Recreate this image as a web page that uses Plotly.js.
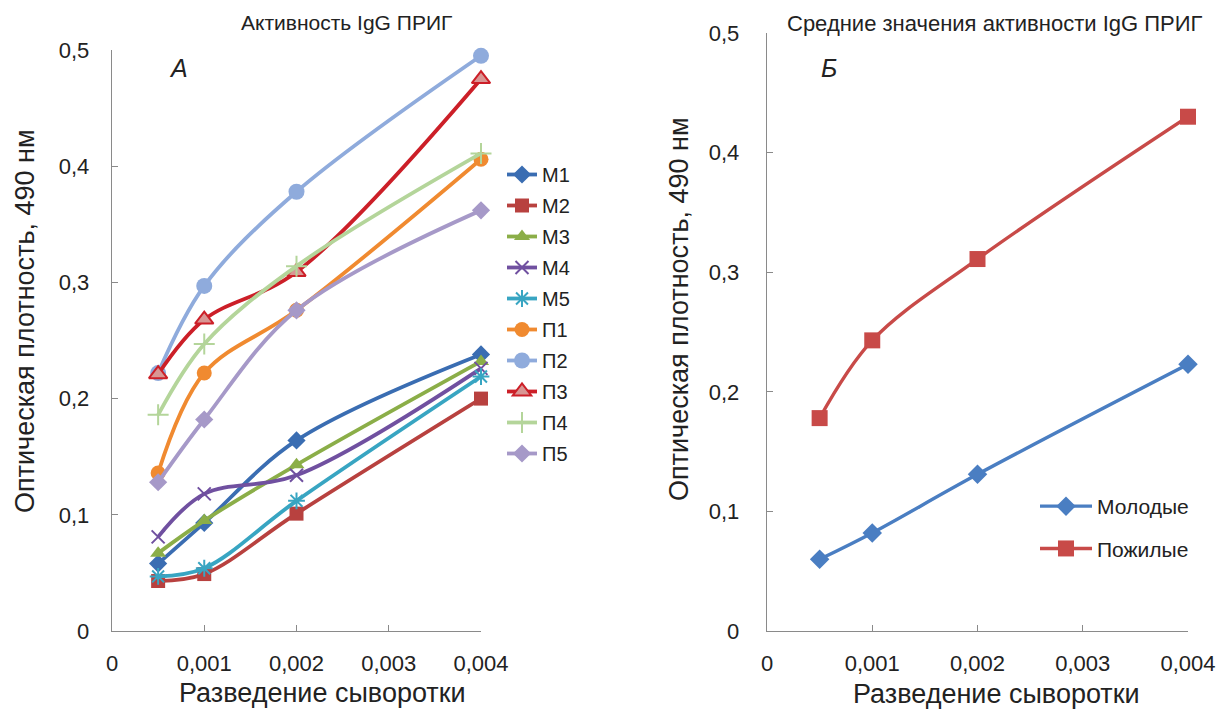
<!DOCTYPE html>
<html>
<head>
<meta charset="utf-8">
<script src="https://cdn.plot.ly/plotly-3.0.1.min.js"></script>
<style>html,body{margin:0;padding:0;background:#fff}#chart{width:1222px;height:709px}</style>
</head>
<body>
<div id="chart"></div>
<script>
// ---- data ----
const dilution = [0.0005, 0.001, 0.002, 0.004];
const seriesNames = ["М1", "М2", "М3", "М4", "М5", "П1", "П2", "П3", "П4", "П5"];
const M1 = [0.058, 0.093, 0.164, 0.238];
const M2 = [0.043, 0.049, 0.101, 0.200];
const M3 = [0.067, 0.095, 0.143, 0.232];
const M4 = [0.081, 0.118, 0.134, 0.226];
const M5 = [0.047, 0.054, 0.112, 0.219];
const P1 = [0.136, 0.222, 0.276, 0.406];
const P2 = [0.222, 0.297, 0.378, 0.495];
const P3 = [0.221, 0.268, 0.309, 0.475];
const P4 = [0.186, 0.247, 0.314, 0.411];
const P5 = [0.128, 0.182, 0.276, 0.362];
const groupNames = ["Молодые", "Пожилые"];
const young = [0.060, 0.082, 0.131, 0.223];
const elderly = [0.178, 0.243, 0.311, 0.430];
const xTicks = [0, 0.001, 0.002, 0.003, 0.004];
const xTickText = ["0", "0,001", "0,002", "0,003", "0,004"];
const yTicks = [0, 0.1, 0.2, 0.3, 0.4, 0.5];
const yTickText = ["0", "0,1", "0,2", "0,3", "0,4", "0,5"];

const W = 1222, H = 709;
const px = v => v / W, py = v => 1 - v / H;
const FONT = "Liberation Sans, Arial, sans-serif";

const styles = [
  {c: "#3a6db2", sym: "diamond", size: 14},
  {c: "#b8413f", sym: "square", size: 14},
  {c: "#8bae48", sym: "triangle-up", size: 14},
  {c: "#7050a0", sym: "x-thin", size: 13, lw: 2},
  {c: "#38a5c2", sym: "asterisk", size: 14, lw: 2},
  {c: "#f08a30", sym: "circle", size: 15},
  {c: "#8fabdc", sym: "circle", size: 16},
  {c: "#cc1f28", sym: "triangle-up", size: 16, fill: "#d99694", lw: 2},
  {c: "#b4d59a", sym: "cross-thin", size: 15, lw: 2},
  {c: "#a699c8", sym: "diamond", size: 14}
];
const leftData = [M1, M2, M3, M4, M5, P1, P2, P3, P4, P5];

const traces = leftData.map((ys, i) => {
  const s = styles[i];
  const marker = {symbol: s.sym, size: s.size, color: s.fill || s.c};
  if (s.lw) marker.line = {color: s.c, width: s.lw};
  return {
    x: dilution, y: ys, name: seriesNames[i], type: "scatter", mode: "lines+markers",
    line: {color: s.c, width: 3.8, shape: "spline", smoothing: 1},
    marker: marker, xaxis: "x", yaxis: "y", cliponaxis: false,
    legend: "legend", legendgroup: "g" + i
  };
});
traces.push({
  x: dilution, y: young, name: groupNames[0], type: "scatter", mode: "lines+markers",
  line: {color: "#4a7ec2", width: 3.4, shape: "spline", smoothing: 1},
  marker: {symbol: "diamond", size: 15, color: "#4a7ec2"},
  xaxis: "x2", yaxis: "y2", cliponaxis: false, legend: "legend2", legendgroup: "young"
});
traces.push({
  x: dilution, y: elderly, name: groupNames[1], type: "scatter", mode: "lines+markers",
  line: {color: "#c84a48", width: 3.4, shape: "spline", smoothing: 1},
  marker: {symbol: "square", size: 16, color: "#c84a48"},
  xaxis: "x2", yaxis: "y2", cliponaxis: false, legend: "legend2", legendgroup: "old"
});

const axCommon = {
  showline: true, linecolor: "#8a8a8a", linewidth: 1.3, showgrid: false, zeroline: false,
  ticks: "inside", ticklen: 6, tickcolor: "#8a8a8a", tickwidth: 1.3,
  tickfont: {family: FONT, size: 22, color: "#222"}, fixedrange: true
};
const xAx = (dom) => Object.assign({}, axCommon, {
  domain: dom, range: [0, 0.004], tickmode: "array", tickvals: xTicks, ticktext: xTickText,
  ticklabelstandoff: 12
});
const yAx = (dom, anchor, standoff) => Object.assign({}, axCommon, {
  domain: dom, range: [0, 0.5], tickmode: "array", tickvals: yTicks, ticktext: yTickText,
  anchor: anchor, ticklabelstandoff: standoff
});

const ann = (text, x, y, size, extra) => Object.assign({
  text: text, x: px(x), y: py(y), xref: "paper", yref: "paper",
  xanchor: "center", yanchor: "middle", showarrow: false,
  font: {family: FONT, size: size, color: "#222"}
}, extra || {});

const layout = {
  width: W, height: H, margin: {l: 0, r: 0, t: 0, b: 0},
  paper_bgcolor: "#fff", plot_bgcolor: "rgba(0,0,0,0)",
  font: {family: FONT, color: "#222"},
  xaxis: Object.assign(xAx([px(112), px(481)]), {anchor: "y"}),
  yaxis: yAx([py(631), py(50)], "x", 17),
  xaxis2: Object.assign(xAx([px(767), px(1188)]), {anchor: "y2"}),
  yaxis2: yAx([py(631), py(33)], "x2", 22),
  legend: {x: px(502), y: py(155), xanchor: "left", yanchor: "top",
    font: {family: FONT, size: 20, color: "#222"}, bgcolor: "rgba(0,0,0,0)",
    tracegroupgap: 2, itemwidth: 30},
  legend2: {x: px(1035), y: py(486), xanchor: "left", yanchor: "top",
    font: {family: FONT, size: 21, color: "#222"}, bgcolor: "rgba(0,0,0,0)",
    tracegroupgap: 12, itemwidth: 52},
  showlegend: true,
  annotations: [
    ann("Активность IgG ПРИГ", 346, 23, 21),
    ann("Средние значения активности IgG ПРИГ", 995, 24, 22),
    ann("<i>А</i>", 178, 68, 25),
    ann("<i>Б</i>", 829, 68, 25),
    ann("Разведение сыворотки", 322, 693, 27),
    ann("Разведение сыворотки", 996, 694, 27),
    ann("Оптическая плотность, 490 нм", 25, 321, 27, {textangle: -90}),
    ann("Оптическая плотность, 490 нм", 679, 309, 27, {textangle: -90})
  ]
};

Plotly.newPlot("chart", traces, layout, {displayModeBar: false, staticPlot: true});
</script>
</body>
</html>
